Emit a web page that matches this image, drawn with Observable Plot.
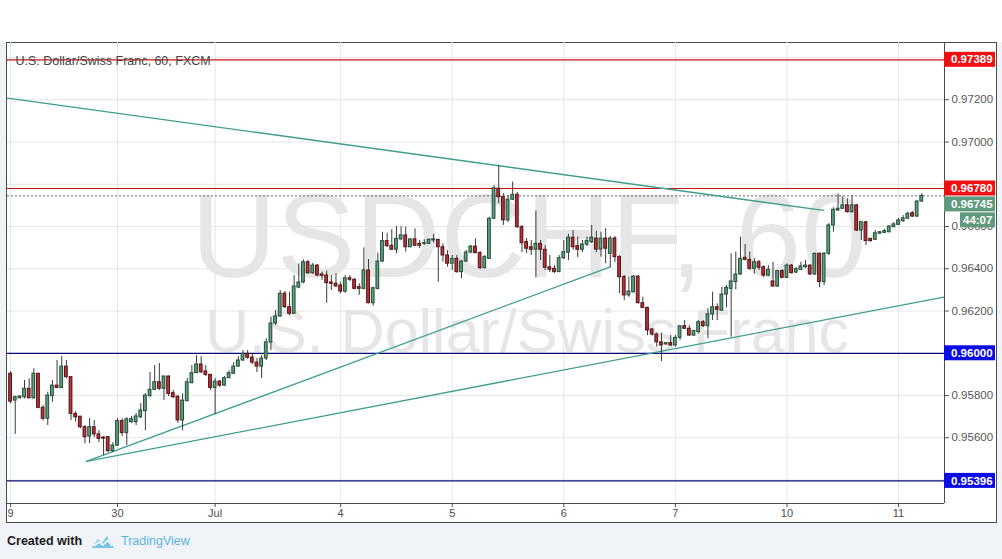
<!DOCTYPE html>
<html><head><meta charset="utf-8">
<script src="https://cdn.jsdelivr.net/npm/d3@7"></script>
<script src="https://cdn.jsdelivr.net/npm/@observablehq/plot@0.6"></script>
<style>
body{margin:0;background:#f0f3f7;font-family:"Liberation Sans",Arial,sans-serif}
#wrap{position:relative;width:1002px;height:559px;overflow:hidden}
#topband{position:absolute;left:0;top:0;width:1002px;height:42px;background:#fff}
#box{position:absolute;left:6px;top:42px;width:989px;height:479px;border:1px solid #4a4a4a;background:#fff}
#chart{position:absolute;left:0;top:0}
#footer{position:absolute;left:7px;top:531px;height:20px;display:flex;align-items:center;white-space:nowrap}
#footer .c{font-weight:bold;font-size:12.5px;color:#1c1c1c}
#footer .t{font-size:12.5px;color:#5cb3dd;margin-left:6px}
#footer svg{margin-left:9px}
</style></head>
<body>
<div id="wrap">
  <div id="topband"></div>
  <div id="box"></div>
  <div id="chart"></div>
  <div id="footer"><span class="c">Created with</span>
    <svg width="24" height="15" viewBox="0 0 24 15"><path d="M1 14 L7 5 L11 9 L16 2 L23 14 Z" fill="#7cc4e6"/><path d="M3 12 L8 8 L12 11 L17 6 L21 12" fill="none" stroke="#fff" stroke-width="1.6"/></svg>
    <span class="t">TradingView</span></div>
</div>
<script>
// hourly candles, index 0 = first visible bar
const open = [0.95903,0.95776,0.95787,0.95792,0.95832,0.95787,0.95903,0.95742,0.95690,0.95797,0.95847,0.95836,0.95937,0.95887,0.95713,0.95700,0.95650,0.95606,0.95650,0.95616,0.95601,0.95603,0.95537,0.95563,0.95679,0.95622,0.95674,0.95674,0.95697,0.95726,0.95797,0.95827,0.95863,0.95832,0.95890,0.95811,0.95795,0.95682,0.95773,0.95858,0.95906,0.95947,0.95914,0.95898,0.95836,0.95866,0.95847,0.95882,0.95903,0.95937,0.95966,0.95997,0.95980,0.95956,0.95937,0.95975,0.96051,0.96141,0.96174,0.96282,0.96218,0.96187,0.96311,0.96335,0.96431,0.96379,0.96415,0.96373,0.96368,0.96335,0.96329,0.96321,0.96292,0.96355,0.96348,0.96313,0.96305,0.96392,0.96237,0.96305,0.96434,0.96531,0.96509,0.96490,0.96539,0.96558,0.96502,0.96539,0.96518,0.96518,0.96518,0.96534,0.96537,0.96502,0.96463,0.96424,0.96447,0.96384,0.96434,0.96477,0.96505,0.96474,0.96403,0.96447,0.96637,0.96779,0.96739,0.96629,0.96727,0.96750,0.96597,0.96526,0.96502,0.96490,0.96518,0.96490,0.96407,0.96400,0.96384,0.96450,0.96476,0.96547,0.96507,0.96490,0.96514,0.96526,0.96543,0.96491,0.96543,0.96471,0.96543,0.96455,0.96360,0.96274,0.96289,0.96363,0.96237,0.96215,0.96113,0.96089,0.96052,0.96042,0.96048,0.96037,0.96073,0.96128,0.96116,0.96084,0.96100,0.96147,0.96128,0.96184,0.96218,0.96202,0.96278,0.96305,0.96337,0.96373,0.96452,0.96442,0.96400,0.96431,0.96407,0.96368,0.96340,0.96316,0.96389,0.96357,0.96415,0.96382,0.96395,0.96407,0.96415,0.96373,0.96471,0.96337,0.96471,0.96605,0.96676,0.96684,0.96700,0.96668,0.96700,0.96581,0.96620,0.96542,0.96537,0.96566,0.96570,0.96573,0.96597,0.96608,0.96625,0.96637,0.96663,0.96647,0.96718];
const high = [0.95913,0.95797,0.95800,0.95871,0.95879,0.95926,0.95905,0.95753,0.95816,0.95871,0.95966,0.95984,0.95966,0.95888,0.95724,0.95701,0.95658,0.95691,0.95682,0.95634,0.95606,0.95606,0.95577,0.95691,0.95691,0.95696,0.95701,0.95715,0.95762,0.95809,0.95909,0.95942,0.95952,0.95892,0.95892,0.95824,0.95797,0.95809,0.95881,0.95942,0.95989,0.95984,0.95942,0.95900,0.95881,0.95871,0.95890,0.95918,0.95956,0.95984,0.96013,0.96013,0.95994,0.95975,0.95989,0.96069,0.96171,0.96202,0.96297,0.96292,0.96289,0.96368,0.96423,0.96442,0.96439,0.96425,0.96420,0.96384,0.96389,0.96368,0.96377,0.96336,0.96368,0.96368,0.96353,0.96329,0.96499,0.96444,0.96313,0.96474,0.96573,0.96568,0.96585,0.96600,0.96600,0.96597,0.96542,0.96589,0.96534,0.96537,0.96542,0.96563,0.96540,0.96518,0.96487,0.96463,0.96463,0.96439,0.96487,0.96510,0.96542,0.96482,0.96463,0.96644,0.96794,0.96889,0.96756,0.96747,0.96810,0.96761,0.96605,0.96543,0.96534,0.96673,0.96534,0.96510,0.96463,0.96415,0.96463,0.96534,0.96563,0.96581,0.96550,0.96534,0.96550,0.96605,0.96578,0.96573,0.96591,0.96553,0.96553,0.96463,0.96368,0.96360,0.96368,0.96368,0.96265,0.96218,0.96116,0.96095,0.96095,0.96052,0.96084,0.96084,0.96131,0.96155,0.96131,0.96108,0.96155,0.96155,0.96211,0.96289,0.96234,0.96313,0.96321,0.96471,0.96479,0.96550,0.96515,0.96479,0.96447,0.96439,0.96415,0.96415,0.96431,0.96392,0.96396,0.96423,0.96420,0.96406,0.96431,0.96439,0.96418,0.96474,0.96474,0.96477,0.96614,0.96689,0.96755,0.96739,0.96731,0.96747,0.96704,0.96624,0.96624,0.96543,0.96581,0.96576,0.96586,0.96605,0.96619,0.96639,0.96652,0.96668,0.96671,0.96723,0.96755];
const low = [0.95761,0.95616,0.95784,0.95784,0.95784,0.95782,0.95737,0.95679,0.95658,0.95768,0.95832,0.95832,0.95879,0.95682,0.95674,0.95642,0.95571,0.95573,0.95601,0.95577,0.95516,0.95530,0.95530,0.95559,0.95606,0.95563,0.95668,0.95658,0.95691,0.95634,0.95791,0.95824,0.95824,0.95776,0.95795,0.95786,0.95668,0.95634,0.95772,0.95857,0.95904,0.95904,0.95890,0.95824,0.95710,0.95838,0.95843,0.95881,0.95900,0.95933,0.95961,0.95971,0.95947,0.95909,0.95881,0.95966,0.96013,0.96131,0.96171,0.96211,0.96179,0.96184,0.96305,0.96329,0.96373,0.96373,0.96363,0.96345,0.96237,0.96297,0.96313,0.96282,0.96284,0.96340,0.96300,0.96274,0.96300,0.96234,0.96223,0.96300,0.96431,0.96501,0.96487,0.96471,0.96534,0.96479,0.96499,0.96505,0.96495,0.96510,0.96515,0.96521,0.96336,0.96431,0.96407,0.96392,0.96379,0.96353,0.96431,0.96471,0.96471,0.96396,0.96400,0.96444,0.96633,0.96708,0.96605,0.96619,0.96723,0.96591,0.96477,0.96472,0.96463,0.96357,0.96439,0.96392,0.96382,0.96378,0.96382,0.96444,0.96439,0.96487,0.96453,0.96477,0.96505,0.96520,0.96477,0.96455,0.96424,0.96406,0.96430,0.96282,0.96250,0.96265,0.96285,0.96234,0.96211,0.96084,0.96081,0.96029,0.95961,0.96037,0.96032,0.96029,0.96060,0.96113,0.96079,0.96079,0.96092,0.96122,0.96069,0.96155,0.96155,0.96199,0.96215,0.96076,0.96300,0.96368,0.96439,0.96392,0.96376,0.96392,0.96360,0.96363,0.96313,0.96311,0.96354,0.96354,0.96376,0.96378,0.96392,0.96403,0.96368,0.96368,0.96310,0.96321,0.96463,0.96573,0.96671,0.96681,0.96664,0.96664,0.96576,0.96534,0.96510,0.96526,0.96534,0.96563,0.96567,0.96570,0.96594,0.96605,0.96620,0.96633,0.96643,0.96643,0.96715];
const close = [0.95771,0.95792,0.95795,0.95832,0.95787,0.95903,0.95742,0.95690,0.95800,0.95847,0.95836,0.95937,0.95887,0.95713,0.95697,0.95650,0.95603,0.95650,0.95616,0.95595,0.95596,0.95537,0.95563,0.95679,0.95622,0.95687,0.95688,0.95701,0.95729,0.95800,0.95827,0.95863,0.95832,0.95890,0.95808,0.95792,0.95682,0.95776,0.95863,0.95906,0.95947,0.95910,0.95898,0.95836,0.95866,0.95847,0.95882,0.95906,0.95937,0.95966,0.95997,0.95979,0.95956,0.95937,0.95975,0.96052,0.96141,0.96174,0.96282,0.96218,0.96187,0.96316,0.96335,0.96431,0.96379,0.96415,0.96368,0.96367,0.96332,0.96329,0.96316,0.96292,0.96355,0.96348,0.96305,0.96305,0.96392,0.96237,0.96308,0.96434,0.96531,0.96507,0.96490,0.96542,0.96558,0.96502,0.96539,0.96509,0.96509,0.96521,0.96537,0.96539,0.96502,0.96463,0.96424,0.96447,0.96384,0.96434,0.96477,0.96505,0.96474,0.96403,0.96455,0.96637,0.96781,0.96739,0.96629,0.96727,0.96750,0.96597,0.96521,0.96495,0.96490,0.96518,0.96490,0.96405,0.96395,0.96384,0.96450,0.96479,0.96547,0.96502,0.96490,0.96515,0.96531,0.96547,0.96491,0.96543,0.96495,0.96543,0.96455,0.96360,0.96274,0.96292,0.96363,0.96237,0.96215,0.96108,0.96089,0.96052,0.96037,0.96048,0.96037,0.96073,0.96128,0.96116,0.96084,0.96105,0.96147,0.96128,0.96184,0.96218,0.96206,0.96278,0.96310,0.96340,0.96373,0.96447,0.96442,0.96400,0.96431,0.96405,0.96368,0.96395,0.96316,0.96389,0.96357,0.96415,0.96379,0.96398,0.96411,0.96415,0.96373,0.96471,0.96337,0.96471,0.96605,0.96679,0.96684,0.96700,0.96668,0.96700,0.96581,0.96620,0.96531,0.96531,0.96568,0.96573,0.96578,0.96600,0.96610,0.96629,0.96639,0.96660,0.96647,0.96718,0.96745];

// axes
const xTickIdx = [0, 23, 44, 71, 95, 119, 143, 167, 191];
const xTickLab = ["9", "30", "Jul", "4", "5", "6", "7", "10", "11"];
const yGrid = [0.954, 0.956, 0.958, 0.960, 0.962, 0.964, 0.966, 0.968, 0.970, 0.972, 0.974];
const yLabelled = [0.956, 0.958, 0.962, 0.964, 0.966, 0.970, 0.972];
const xDomain = [-0.66, 200.89];
const yDomain = [0.95289, 0.97471];

// drawings
const trendDownX = [-0.66, 174.9], trendDownP = [0.97208, 0.96676];
const trendUpAX = [16.33, 129.0], trendUpAP = [0.95488, 0.96409];
const trendUpBX = [16.33, 200.75], trendUpBP = [0.95488, 0.96266];
const redLevels = [0.97389, 0.96780];
const blueLevels = [0.96000, 0.95396];
const lastPrice = 0.96745;
const countdown = "44:07";
const title = "U.S. Dollar/Swiss Franc, 60, FXCM";
const wmSymbol = "USDCHF, 60";
const wmName = "U.S. Dollar/Swiss Franc";

const candles = open.map((o, i) => ({i, o, h: high[i], l: low[i], c: close[i]}));
const up = candles.filter(d => d.c >= d.o), down = candles.filter(d => d.c < d.o);
const pts = (xs, ps) => xs.map((x, k) => ({x, p: ps[k]}));
const labMap = new Map(xTickIdx.map((d, k) => [d, xTickLab[k]]));
const FONT = "'Liberation Sans', Arial, sans-serif";

const chart = Plot.plot({
  width: 1002, height: 525,
  marginTop: 42, marginRight: 58, marginBottom: 22, marginLeft: 7,
  x: {domain: xDomain},
  y: {domain: yDomain},
  style: {background: "none", fontFamily: FONT, color: "#4d4d4d", overflow: "visible"},
  marks: [
    Plot.gridX(xTickIdx, {stroke: "#e6e6e6", strokeOpacity: 1}),
    Plot.gridY(yGrid, {stroke: "#e6e6e6", strokeOpacity: 1}),
    Plot.text([wmSymbol], {text: d => d, frameAnchor: "middle", dx: 53, dy: -34, fontSize: 118, fill: "#e6e6e6", fontFamily: FONT}),
    Plot.text([wmName], {text: d => d, frameAnchor: "middle", dx: 51, dy: 59, fontSize: 61, fill: "#e6e6e6", fontFamily: FONT}),
    Plot.ruleY(redLevels, {stroke: "#cc1010", strokeWidth: 1.2}),
    Plot.ruleY(blueLevels, {stroke: "#0a0a78", strokeWidth: 1.2}),
    Plot.ruleY([lastPrice], {stroke: "#666", strokeDasharray: "2,2", strokeWidth: 1}),
    Plot.text([title], {text: d => d, frameAnchor: "top-left", dx: 8, dy: 18.5, textAnchor: "start", lineAnchor: "middle", fontSize: 12.5, fill: "#454545"}),
    Plot.line(pts(trendDownX, trendDownP), {x: "x", y: "p", stroke: "#3f9e8e", strokeWidth: 1.3}),
    Plot.line(pts(trendUpAX, trendUpAP), {x: "x", y: "p", stroke: "#3f9e8e", strokeWidth: 1.3}),
    Plot.line(pts(trendUpBX, trendUpBP), {x: "x", y: "p", stroke: "#3f9e8e", strokeWidth: 1.3}),
    Plot.ruleX(candles, {x: "i", y1: "l", y2: "h", stroke: "#3a3a3a", strokeWidth: 1}),
    Plot.rect(up, {x1: d => d.i - 0.3, x2: d => d.i + 0.3, y1: "o", y2: "c", fill: "#5e9e7c", stroke: "#234d37", strokeWidth: 1}),
    Plot.rect(down, {x1: d => d.i - 0.3, x2: d => d.i + 0.3, y1: "o", y2: "c", fill: "#b0343a", stroke: "#561315", strokeWidth: 1}),
    Plot.axisX(xTickIdx, {tickFormat: d => labMap.get(d), tickSize: 4, tickPadding: 2, fontSize: 11, fill: "#4d4d4d", stroke: "#4d4d4d"}),
    Plot.axisY(yGrid, {anchor: "right", tickFormat: d => yLabelled.includes(d) ? d.toFixed(5) : "", tickSize: 4, tickPadding: 3, fontSize: 11.5, fill: "#555", stroke: "#555"}),
    Plot.ruleX([xDomain[1]], {stroke: "#4a4a4a"}),
    Plot.ruleY([yDomain[0]], {stroke: "#4a4a4a"})
  ]
});
document.getElementById("chart").appendChild(chart);

// price labels on the right scale, positioned through the y scale
const ys = chart.scale("y");
const svg = d3.select(chart);
const labels = [
  ...redLevels.map(v => ({v, text: v.toFixed(5), fill: "#ef1111", off: 0, x: 944, w: 51, pad: 7})),
  {v: lastPrice, text: lastPrice.toFixed(5), fill: "#5f9a7c", off: 8.5, x: 944, w: 51, pad: 7},
  {v: lastPrice, text: countdown, fill: "#5f9a7c", off: 24.5, x: 960, w: 35, pad: 3},
  ...blueLevels.map(v => ({v, text: v.toFixed(5), fill: "#0b0be6", off: 0, x: 944, w: 51, pad: 7}))
];
for (const l of labels) {
  const yy = ys.apply(l.v) + l.off;
  svg.append("rect").attr("x", l.x).attr("y", yy - 7.5).attr("width", l.w).attr("height", 15).attr("fill", l.fill);
  svg.append("text").attr("x", l.x + l.pad).attr("y", yy).attr("dy", "0.36em").attr("text-anchor", "start")
    .attr("fill", "#fff").attr("font-weight", "bold").attr("font-size", 11.5).attr("font-family", FONT).text(l.text);
}
</script>
</body></html>
